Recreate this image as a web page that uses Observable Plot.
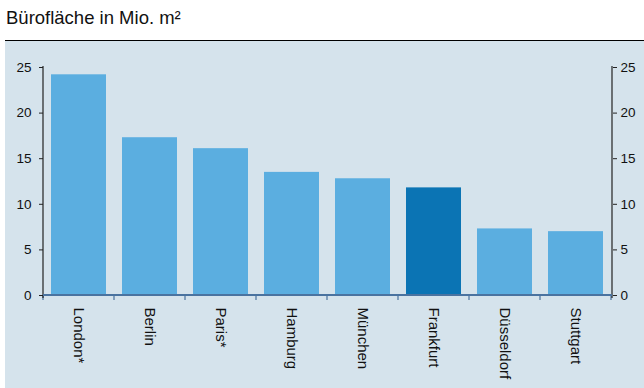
<!DOCTYPE html>
<html>
<head>
<meta charset="utf-8">
<script src="https://cdn.jsdelivr.net/npm/d3@7"></script>
<script src="https://cdn.jsdelivr.net/npm/@observablehq/plot@0.6"></script>
<style>
  html, body { margin: 0; padding: 0; background: #fff; }
  #wrap { position: relative; width: 644px; height: 388px; font-family: "Liberation Sans", Arial, sans-serif; color: #111; }
  #title { position: absolute; left: 6px; top: 9px; font-size: 18.5px; line-height: 18.5px; white-space: nowrap; }
  #panel { position: absolute; left: 5px; top: 40px; width: 639px; height: 348px; background: #d5e3ec; border-top: 1px solid #000; box-sizing: border-box; }
  #panel svg { display: block; }
</style>
</head>
<body>
<div id="wrap">
  <div id="title">Bürofläche in Mio. m²</div>
  <div id="panel"></div>
</div>
<script>
// Office space by city, million m²
const cities = ["London*", "Berlin", "Paris*", "Hamburg", "München", "Frankfurt", "Düsseldorf", "Stuttgart"];
const area = [24.2, 17.3, 16.1, 13.5, 12.8, 11.8, 7.3, 7.0];
const highlight = "Frankfurt";
const yTicks = [0, 5, 10, 15, 20, 25];

const rows = cities.map((city, i) => ({city, value: area[i]}));

const axisColor = "#222";
const baseColor = "#4a73a0";

// Axis lines, baseline and category separators, derived from the scales
function frameLines(index, scales) {
  const x = scales.x, y = scales.y;
  const [x0, x1] = x.range();
  const yTop = y(d3.max(yTicks)), yBase = y(0);
  const step = x.step();
  const start = x(x.domain()[0]) - (step - x.bandwidth()) / 2;
  const g = d3.create("svg:g");
  // category separators below the baseline
  for (let i = 0; i <= cities.length; i++) {
    const px = start + i * step;
    g.append("line").attr("x1", px).attr("x2", px).attr("y1", yBase).attr("y2", yBase + 5)
      .attr("stroke", baseColor).attr("stroke-width", 1.2);
  }
  // left and right value axes
  for (const px of [x0, x1]) {
    g.append("line").attr("x1", px).attr("x2", px).attr("y1", yTop - 1).attr("y2", yBase + 3)
      .attr("stroke", axisColor).attr("stroke-width", 1.2);
  }
  // baseline
  g.append("line").attr("x1", x0).attr("x2", x1).attr("y1", yBase).attr("y2", yBase)
    .attr("stroke", baseColor).attr("stroke-width", 2);
  return g.node();
}

const chart = Plot.plot({
  width: 639,
  height: 347,
  marginTop: 26,
  marginBottom: 93,
  marginLeft: 38,
  marginRight: 32,
  style: { background: "transparent", fontFamily: "'Liberation Sans', Arial, sans-serif", color: "#111" },
  x: { domain: cities, paddingInner: 0.22, paddingOuter: 0.11, axis: null },
  y: { domain: [0, 25], axis: null },
  marks: [
    Plot.barY(rows, {
      x: "city",
      y: "value",
      fill: d => d.city === highlight ? "#0b74b4" : "#5baee0"
    }),
    frameLines,
    Plot.axisY(yTicks, { anchor: "left", tickSize: 4, tickPadding: 8, fontSize: 13.5, stroke: axisColor, strokeWidth: 1, label: null }),
    Plot.axisY(yTicks, { anchor: "right", tickSize: 4, tickPadding: 4, fontSize: 13.5, stroke: axisColor, strokeWidth: 1, label: null }),
    Plot.axisX({ tickRotate: 90, tickSize: 0, tickPadding: 12, fontSize: 15, label: null, textAnchor: "start" })
  ]
});

document.getElementById("panel").appendChild(chart);
</script>
</body>
</html>
